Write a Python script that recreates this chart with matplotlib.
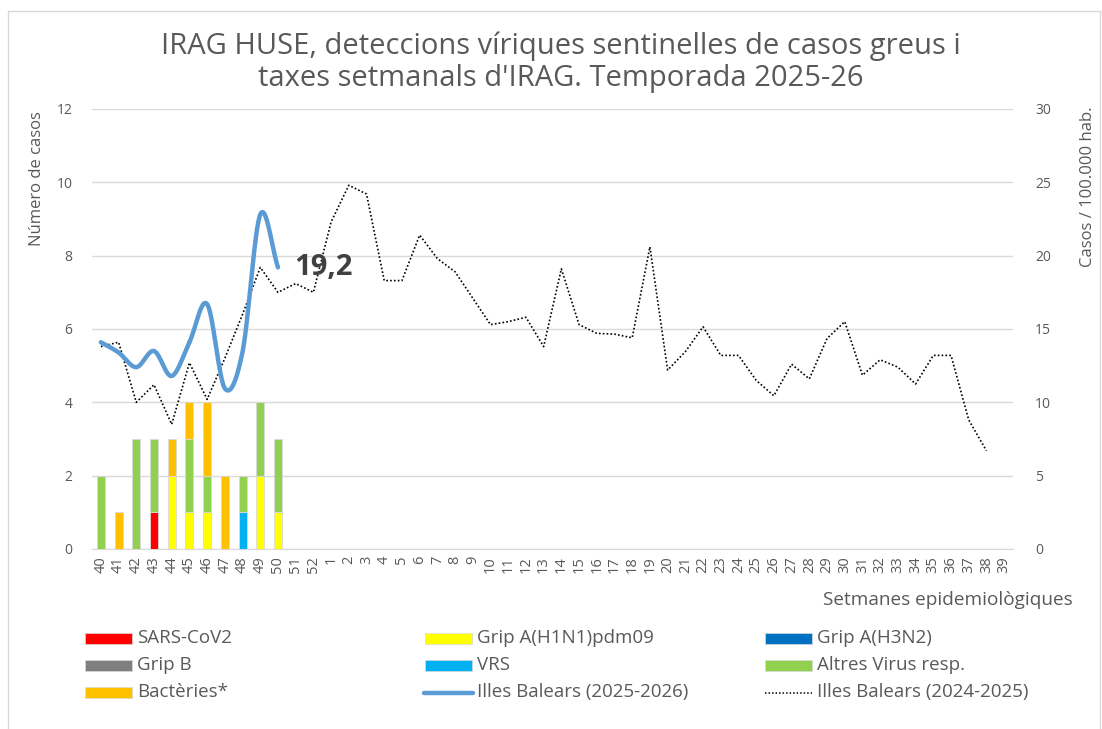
import matplotlib
matplotlib.use('Agg')
import matplotlib.pyplot as plt
import numpy as np
from matplotlib.patches import Rectangle
from matplotlib.lines import Line2D

plt.rcParams['font.family'] = ['Open Sans', 'DejaVu Sans']

weeks = [str(w) for w in list(range(40, 53)) + list(range(1, 40))]

# casos per setmana (setmanes 40-50)
sars = [0, 0, 0, 1, 0, 0, 0, 0, 0, 0, 0]
h1n1 = [0, 0, 0, 0, 2, 1, 1, 0, 0, 2, 1]
h3n2 = [0, 0, 0, 0, 0, 0, 0, 0, 0, 0, 0]
gripb = [0, 0, 0, 0, 0, 0, 0, 0, 0, 0, 0]
vrs = [0, 0, 0, 0, 0, 0, 0, 0, 1, 0, 0]
altres = [2, 0, 3, 2, 0, 2, 1, 0, 1, 2, 2]
bacteries = [0, 1, 0, 0, 1, 1, 2, 2, 0, 0, 0]

# taxes per 100.000 hab.
taxa_2526 = [14.1, 13.4, 12.4, 13.5, 11.8, 14.1, 16.7, 10.95, 13.45, 22.8, 19.2]
taxa_2425 = [13.8, 14.1, 10.0, 11.2, 8.5, 12.7, 10.2, 13.0, 16.0, 19.2, 17.5, 18.1, 17.5,
             22.3, 24.8, 24.2, 18.3, 18.3, 21.4, 19.8, 18.9, 17.1, 15.3, 15.5, 15.8,
             13.8, 19.1, 15.3, 14.7, 14.65, 14.4, 20.6, 12.2, 13.45, 15.15, 13.2, 13.2,
             11.5, 10.45, 12.6, 11.6, 14.35, 15.5, 11.85, 12.9, 12.4, 11.25, 13.2, 13.2,
             8.8, 6.7]

series = [
    ('SARS-CoV2', sars, '#ff0000'),
    ('Grip A(H1N1)pdm09', h1n1, '#ffff00'),
    ('Grip A(H3N2)', h3n2, '#0070c0'),
    ('Grip B', gripb, '#7f7f7f'),
    ('VRS', vrs, '#00b0f0'),
    ('Altres Virus resp.', altres, '#92d050'),
    ('Bactèries*', bacteries, '#ffc000'),
]

gray = '#595959'
grid = '#d9d9d9'

W, H = 1102, 729
fig = plt.figure(figsize=(W / 100, H / 100), dpi=100)
ax = fig.add_axes([92 / W, 1 - 549 / H, (1013 - 92) / W, (549 - 109) / H])
ax2 = ax.twinx()

x = np.arange(len(weeks))
xb = np.arange(len(sars))
bottom = np.zeros(len(sars))
for name, vals, col in series:
    v = np.array(vals, dtype=float)
    ax.bar(xb, v, 0.45, bottom=bottom, color=col, edgecolor=grid, linewidth=0.6, zorder=3)
    bottom += v

ax.set_xlim(-0.5, len(weeks) - 0.5)
ax.set_ylim(0, 12)
ax.set_yticks(range(0, 13, 2))
ax.set_xticks(x)
ax.set_xticklabels(weeks, rotation=90, fontsize=10.5, color=gray)
ax.tick_params(axis='y', labelsize=10, colors=gray, length=0, pad=14)
ax.tick_params(axis='x', length=0, pad=5)
ax.grid(axis='y', color=grid, linewidth=1, zorder=0)
ax.set_axisbelow(True)
for s in ax.spines.values():
    s.set_visible(False)
ax.spines['bottom'].set_visible(True)
ax.spines['bottom'].set_color(grid)

# línia 2024-25
ax2.plot(x[:len(taxa_2425)], taxa_2425, color='black', linestyle=(0, (1, 1.3)), linewidth=1.2, zorder=4)

# línia suavitzada 2025-26 (Catmull-Rom)
p = np.array(taxa_2526)
pts = np.concatenate([[2 * p[0] - p[1]], p, [2 * p[-1] - p[-2]]])
xs_s, ys_s = [], []
for i in range(len(p) - 1):
    p0, p1, p2, p3 = pts[i], pts[i + 1], pts[i + 2], pts[i + 3]
    t = np.linspace(0, 1, 30)
    yy = 0.5 * ((2 * p1) + (-p0 + p2) * t + (2 * p0 - 5 * p1 + 4 * p2 - p3) * t ** 2
                + (-p0 + 3 * p1 - 3 * p2 + p3) * t ** 3)
    xs_s.extend(i + t)
    ys_s.extend(yy)
ax2.plot(xs_s, ys_s, color='#5b9bd5', linewidth=3.2, solid_capstyle='round', zorder=5)
ax2.text(len(p) - 1 + 0.9, p[-1], '19,2', fontsize=21, fontweight='bold', color='#404040',
         va='center', ha='left', zorder=6)

ax2.set_ylim(0, 30)
ax2.set_yticks(range(0, 31, 5))
ax2.tick_params(axis='y', labelsize=10, colors=gray, length=0, pad=16)
for s in ax2.spines.values():
    s.set_visible(False)

fig.text(561 / W, 1 - 62 / H,
         "IRAG HUSE, deteccions víriques sentinelles de casos greus i\ntaxes setmanals d'IRAG. Temporada 2025-26",
         ha='center', va='center', fontsize=21, color=gray, linespacing=1.15)
fig.text(37 / W, 1 - 179 / H, 'Número de casos', rotation=90, ha='center', va='center',
         fontsize=12, color=gray)
fig.text(1088 / W, 1 - 187 / H, 'Casos / 100.000 hab.', rotation=90, ha='center', va='center',
         fontsize=12, color=gray)
fig.text(1073 / W, 1 - 600 / H, 'Setmanes epidemiològiques', ha='right', va='center',
         fontsize=13.7, color=gray)

# llegenda
cols_x = [85, 425, 765]
rows_y = [638, 665, 692]
entries = [(n, 'patch', c) for n, _, c in series]
entries += [('Illes Balears (2025-2026)', 'blue', None), ('Illes Balears (2024-2025)', 'dot', None)]
for k, (name, kind, col) in enumerate(entries):
    cx = cols_x[k % 3]
    cy = rows_y[k // 3]
    if kind == 'patch':
        fig.add_artist(Rectangle((cx / W, 1 - (cy + 5.5) / H), 47 / W, 11 / H,
                                 transform=fig.transFigure, facecolor=col, edgecolor=grid, linewidth=0.5))
    elif kind == 'blue':
        fig.add_artist(Line2D([(cx - 1) / W, (cx + 48) / W], [1 - (cy + 1) / H] * 2,
                              transform=fig.transFigure, color='#5b9bd5', linewidth=3.2,
                              solid_capstyle='round'))
    else:
        fig.add_artist(Line2D([cx / W, (cx + 47) / W], [1 - (cy + 1) / H] * 2,
                              transform=fig.transFigure, color='black', linewidth=1.1,
                              linestyle=(0, (1, 1.3))))
    fig.text((cx + 52) / W, 1 - cy / H, name, ha='left', va='center', fontsize=13.5, color=gray)

# vora del gràfic
fig.add_artist(Line2D([8 / W, 8 / W, 1100 / W, 1100 / W], [0, 1 - 11 / H, 1 - 11 / H, 0],
                      transform=fig.transFigure, color=grid, linewidth=1))

fig.savefig('out.png', dpi=100)
